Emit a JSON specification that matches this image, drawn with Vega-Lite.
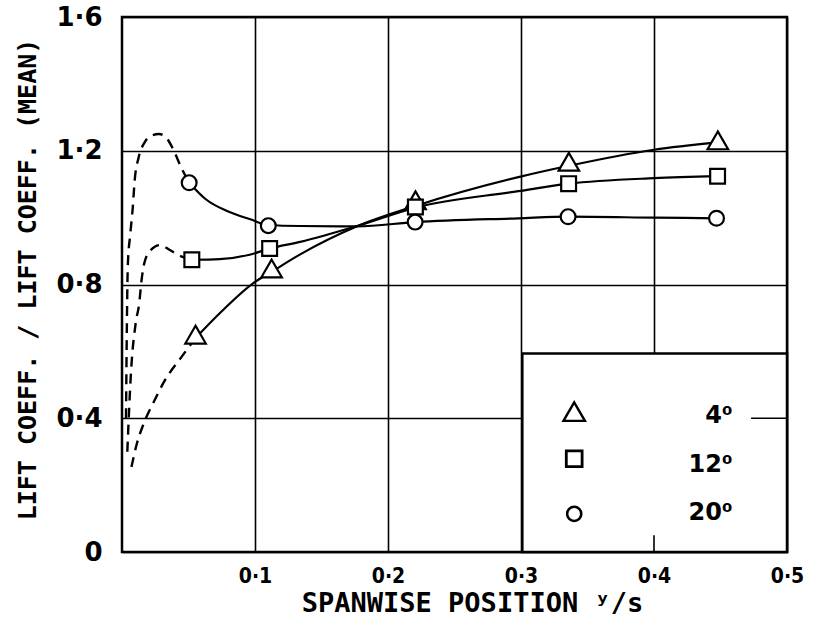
{
  "$schema": "https://vega.github.io/schema/vega-lite/v6.json",
  "width": 665,
  "height": 535,
  "autosize": {"type": "none"},
  "padding": {"left": 122, "top": 17, "right": 31, "bottom": 90},
  "background": "white",
  "config": {
    "view": {"stroke": "black", "strokeWidth": 2.5},
    "axis": {
      "grid": true, "gridColor": "black", "gridOpacity": 1, "gridWidth": 1.6,
      "domain": false, "ticks": false, "labelColor": "black", "titleColor": "black",
      "labelFontWeight": "bold", "titleFontWeight": "bold", "titleFont": "DejaVu Sans Mono",
      "labelFlush": false, "labelOverlap": false
    },
    "text": {"font": "DejaVu Sans", "fontSize": 24, "fontWeight": "bold", "color": "black", "align": "right", "baseline": "middle"}
  },
  "datasets": {
    "curves": [
      {"series": "4⁰", "part": "solid", "x": 0.0553, "y": 0.64},
      {"series": "4⁰", "part": "solid", "x": 0.075, "y": 0.72},
      {"series": "4⁰", "part": "solid", "x": 0.099, "y": 0.805},
      {"series": "4⁰", "part": "solid", "x": 0.1125, "y": 0.838},
      {"series": "4⁰", "part": "solid", "x": 0.134, "y": 0.89},
      {"series": "4⁰", "part": "solid", "x": 0.1768, "y": 0.974},
      {"series": "4⁰", "part": "solid", "x": 0.2207, "y": 1.035},
      {"series": "4⁰", "part": "solid", "x": 0.298, "y": 1.121},
      {"series": "4⁰", "part": "solid", "x": 0.336, "y": 1.155},
      {"series": "4⁰", "part": "solid", "x": 0.4, "y": 1.203},
      {"series": "4⁰", "part": "solid", "x": 0.448, "y": 1.225},
      {"series": "12⁰", "part": "solid", "x": 0.0525, "y": 0.874},
      {"series": "12⁰", "part": "solid", "x": 0.0735, "y": 0.876},
      {"series": "12⁰", "part": "solid", "x": 0.096, "y": 0.889},
      {"series": "12⁰", "part": "solid", "x": 0.111, "y": 0.9075},
      {"series": "12⁰", "part": "solid", "x": 0.134, "y": 0.9275},
      {"series": "12⁰", "part": "solid", "x": 0.1768, "y": 0.975},
      {"series": "12⁰", "part": "solid", "x": 0.2206, "y": 1.03},
      {"series": "12⁰", "part": "solid", "x": 0.298, "y": 1.079},
      {"series": "12⁰", "part": "solid", "x": 0.3358, "y": 1.1015},
      {"series": "12⁰", "part": "solid", "x": 0.4, "y": 1.118},
      {"series": "12⁰", "part": "solid", "x": 0.4478, "y": 1.124},
      {"series": "20⁰", "part": "solid", "x": 0.0505, "y": 1.1045},
      {"series": "20⁰", "part": "solid", "x": 0.063, "y": 1.055},
      {"series": "20⁰", "part": "solid", "x": 0.0794, "y": 1.019},
      {"series": "20⁰", "part": "solid", "x": 0.0965, "y": 0.995},
      {"series": "20⁰", "part": "solid", "x": 0.11, "y": 0.978},
      {"series": "20⁰", "part": "solid", "x": 0.134, "y": 0.975},
      {"series": "20⁰", "part": "solid", "x": 0.1768, "y": 0.974},
      {"series": "20⁰", "part": "solid", "x": 0.2204, "y": 0.9866},
      {"series": "20⁰", "part": "solid", "x": 0.298, "y": 0.998},
      {"series": "20⁰", "part": "solid", "x": 0.3354, "y": 1.0028},
      {"series": "20⁰", "part": "solid", "x": 0.4, "y": 1.0},
      {"series": "20⁰", "part": "solid", "x": 0.447, "y": 0.998},
      {"series": "4⁰", "part": "dashed", "x": 0.0071, "y": 0.254},
      {"series": "4⁰", "part": "dashed", "x": 0.0111, "y": 0.323},
      {"series": "4⁰", "part": "dashed", "x": 0.0167, "y": 0.388},
      {"series": "4⁰", "part": "dashed", "x": 0.0245, "y": 0.454},
      {"series": "4⁰", "part": "dashed", "x": 0.0322, "y": 0.513},
      {"series": "4⁰", "part": "dashed", "x": 0.0445, "y": 0.582},
      {"series": "4⁰", "part": "dashed", "x": 0.0553, "y": 0.64},
      {"series": "12⁰", "part": "dashed", "x": 0.004, "y": 0.3},
      {"series": "12⁰", "part": "dashed", "x": 0.0068, "y": 0.54},
      {"series": "12⁰", "part": "dashed", "x": 0.0105, "y": 0.69},
      {"series": "12⁰", "part": "dashed", "x": 0.0129, "y": 0.742},
      {"series": "12⁰", "part": "dashed", "x": 0.0147, "y": 0.813},
      {"series": "12⁰", "part": "dashed", "x": 0.0166, "y": 0.861},
      {"series": "12⁰", "part": "dashed", "x": 0.021, "y": 0.9},
      {"series": "12⁰", "part": "dashed", "x": 0.0287, "y": 0.918},
      {"series": "12⁰", "part": "dashed", "x": 0.036, "y": 0.903},
      {"series": "12⁰", "part": "dashed", "x": 0.044, "y": 0.885},
      {"series": "12⁰", "part": "dashed", "x": 0.0525, "y": 0.874},
      {"series": "20⁰", "part": "dashed", "x": 0.003, "y": 0.4},
      {"series": "20⁰", "part": "dashed", "x": 0.0044, "y": 0.86},
      {"series": "20⁰", "part": "dashed", "x": 0.0062, "y": 0.95},
      {"series": "20⁰", "part": "dashed", "x": 0.0081, "y": 1.03},
      {"series": "20⁰", "part": "dashed", "x": 0.0095, "y": 1.11},
      {"series": "20⁰", "part": "dashed", "x": 0.0125, "y": 1.18},
      {"series": "20⁰", "part": "dashed", "x": 0.017, "y": 1.225},
      {"series": "20⁰", "part": "dashed", "x": 0.022, "y": 1.245},
      {"series": "20⁰", "part": "dashed", "x": 0.0278, "y": 1.25},
      {"series": "20⁰", "part": "dashed", "x": 0.033, "y": 1.24},
      {"series": "20⁰", "part": "dashed", "x": 0.039, "y": 1.2},
      {"series": "20⁰", "part": "dashed", "x": 0.0445, "y": 1.15},
      {"series": "20⁰", "part": "dashed", "x": 0.0505, "y": 1.1045}
    ],
    "markers": [
      {"series": "4⁰", "x": 0.0553, "y": 0.65},
      {"series": "4⁰", "x": 0.1125, "y": 0.848},
      {"series": "4⁰", "x": 0.2207, "y": 1.052},
      {"series": "4⁰", "x": 0.336, "y": 1.167},
      {"series": "4⁰", "x": 0.448, "y": 1.231},
      {"series": "12⁰", "x": 0.0525, "y": 0.874},
      {"series": "12⁰", "x": 0.111, "y": 0.9075},
      {"series": "12⁰", "x": 0.2206, "y": 1.0316},
      {"series": "12⁰", "x": 0.3358, "y": 1.1015},
      {"series": "12⁰", "x": 0.4478, "y": 1.1237},
      {"series": "20⁰", "x": 0.0505, "y": 1.1045},
      {"series": "20⁰", "x": 0.11, "y": 0.976},
      {"series": "20⁰", "x": 0.2204, "y": 0.9866},
      {"series": "20⁰", "x": 0.3354, "y": 1.0028},
      {"series": "20⁰", "x": 0.447, "y": 0.998}
    ]
  },
  "layer": [
    {
      "data": {"values": [{}]},
      "mark": {"type": "rect", "fill": "white", "stroke": "black", "strokeWidth": 2.5},
      "encoding": {
        "x": {
          "datum": 0.301, "type": "quantitative",
          "scale": {"domain": [0, 0.5], "nice": false, "zero": false},
          "title": "SPANWISE POSITION ʸ/s",
          "axis": {
            "values": [0.1, 0.2, 0.3, 0.4, 0.5], "format": ".1f",
            "labelExpr": "replace(datum.label, '.', '·')",
            "labelFont": "DejaVu Sans Condensed, DejaVu Sans, sans-serif",
            "labelFontSize": 21, "labelPadding": 13,
            "titleFontSize": 27, "titleX": 350, "titleY": 51,
            "titleBaseline": "middle", "titleAlign": "center"
          }
        },
        "x2": {"datum": 0.5},
        "y": {
          "datum": 0, "type": "quantitative",
          "scale": {"domain": [0, 1.6], "nice": false, "zero": false},
          "title": "LIFT COEFF. / LIFT COEFF. (MEAN)",
          "axis": {
            "values": [0, 0.4, 0.8, 1.2, 1.6], "format": ".1f",
            "labelExpr": "datum.value == 0 ? '0' : replace(datum.label, '.', '·')",
            "labelFont": "DejaVu Sans", "labelFontSize": 26, "labelPadding": 20,
            "titleFontSize": 25, "titleX": -95, "titleY": 262, "titleAngle": -90,
            "titleBaseline": "middle", "titleAlign": "center"
          }
        },
        "y2": {"datum": 0.594}
      }
    },
    {
      "data": {"name": "curves"},
      "transform": [{"filter": "datum.part == 'solid'"}],
      "mark": {"type": "line", "color": "black", "strokeWidth": 2.2, "interpolate": "monotone"},
      "encoding": {
        "x": {"field": "x", "type": "quantitative", "title": "SPANWISE POSITION ʸ/s"},
        "y": {"field": "y", "type": "quantitative", "title": "LIFT COEFF. / LIFT COEFF. (MEAN)"},
        "detail": {"field": "series"}
      }
    },
    {
      "data": {"name": "curves"},
      "transform": [{"filter": "datum.part == 'dashed'"}],
      "mark": {"type": "line", "color": "black", "strokeWidth": 2.4, "strokeDash": [10, 7], "interpolate": "monotone"},
      "encoding": {
        "x": {"field": "x", "type": "quantitative", "title": "SPANWISE POSITION ʸ/s"},
        "y": {"field": "y", "type": "quantitative", "title": "LIFT COEFF. / LIFT COEFF. (MEAN)"},
        "detail": {"field": "series"}
      }
    },
    {
      "data": {"values": [{}]},
      "mark": {"type": "rule", "color": "black", "strokeWidth": 1.6},
      "encoding": {
        "x": {"datum": 0.473, "type": "quantitative", "title": "SPANWISE POSITION ʸ/s"},
        "x2": {"datum": 0.5},
        "y": {"datum": 0.4, "type": "quantitative", "title": "LIFT COEFF. / LIFT COEFF. (MEAN)"}
      }
    },
    {
      "data": {"values": [{}]},
      "mark": {"type": "rule", "color": "black", "strokeWidth": 1.6},
      "encoding": {
        "x": {"datum": 0.4, "type": "quantitative", "title": "SPANWISE POSITION ʸ/s"},
        "y": {"datum": 0, "type": "quantitative", "title": "LIFT COEFF. / LIFT COEFF. (MEAN)"},
        "y2": {"datum": 0.05}
      }
    },
    {
      "data": {"name": "markers"},
      "mark": {"type": "point", "filled": false, "fill": "white", "color": "black", "stroke": "black", "strokeWidth": 2.2, "opacity": 1},
      "encoding": {
        "x": {"field": "x", "type": "quantitative", "title": "SPANWISE POSITION ʸ/s"},
        "y": {"field": "y", "type": "quantitative", "title": "LIFT COEFF. / LIFT COEFF. (MEAN)"},
        "size": {"condition": {"test": "datum.series == '4⁰'", "value": 420}, "value": 220},
        "shape": {
          "field": "series", "type": "nominal",
          "scale": {"domain": ["4⁰", "12⁰", "20⁰"], "range": ["triangle-up", "square", "circle"]},
          "legend": null
        }
      }
    },
    {
      "data": {"values": [{}]},
      "mark": {"type": "point", "shape": "triangle-up", "size": 460, "fill": "white", "stroke": "black", "strokeWidth": 2.4, "opacity": 1},
      "encoding": {
        "x": {"datum": 0.34, "type": "quantitative", "title": "SPANWISE POSITION ʸ/s"},
        "y": {"datum": 0.42, "type": "quantitative", "title": "LIFT COEFF. / LIFT COEFF. (MEAN)"}
      }
    },
    {
      "data": {"values": [{}]},
      "mark": {"type": "point", "shape": "square", "size": 250, "fill": "white", "stroke": "black", "strokeWidth": 2.8, "opacity": 1},
      "encoding": {
        "x": {"datum": 0.34, "type": "quantitative", "title": "SPANWISE POSITION ʸ/s"},
        "y": {"datum": 0.279, "type": "quantitative", "title": "LIFT COEFF. / LIFT COEFF. (MEAN)"}
      }
    },
    {
      "data": {"values": [{}]},
      "mark": {"type": "point", "shape": "circle", "size": 200, "fill": "white", "stroke": "black", "strokeWidth": 2.6, "opacity": 1},
      "encoding": {
        "x": {"datum": 0.34, "type": "quantitative", "title": "SPANWISE POSITION ʸ/s"},
        "y": {"datum": 0.114, "type": "quantitative", "title": "LIFT COEFF. / LIFT COEFF. (MEAN)"}
      }
    },
    {
      "data": {"values": [{}]},
      "mark": {"type": "text"},
      "encoding": {
        "x": {"datum": 0.459, "type": "quantitative", "title": "SPANWISE POSITION ʸ/s"},
        "y": {"datum": 0.407, "type": "quantitative", "title": "LIFT COEFF. / LIFT COEFF. (MEAN)"},
        "text": {"value": "4⁰"}
      }
    },
    {
      "data": {"values": [{}]},
      "mark": {"type": "text"},
      "encoding": {
        "x": {"datum": 0.459, "type": "quantitative", "title": "SPANWISE POSITION ʸ/s"},
        "y": {"datum": 0.26, "type": "quantitative", "title": "LIFT COEFF. / LIFT COEFF. (MEAN)"},
        "text": {"value": "12⁰"}
      }
    },
    {
      "data": {"values": [{}]},
      "mark": {"type": "text"},
      "encoding": {
        "x": {"datum": 0.459, "type": "quantitative", "title": "SPANWISE POSITION ʸ/s"},
        "y": {"datum": 0.117, "type": "quantitative", "title": "LIFT COEFF. / LIFT COEFF. (MEAN)"},
        "text": {"value": "20⁰"}
      }
    }
  ]
}
